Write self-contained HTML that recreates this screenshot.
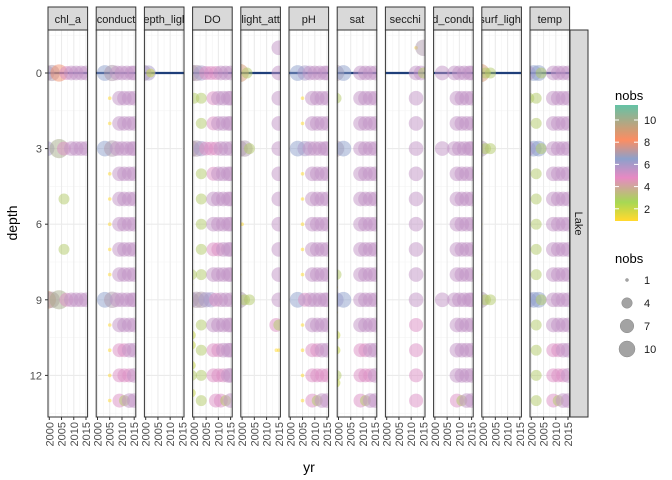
<!DOCTYPE html>
<html><head><meta charset="utf-8">
<style>
html,body{margin:0;padding:0;background:#fff;}
svg{display:block;font-family:"Liberation Sans",Arial,sans-serif;}
</style></head>
<body>
<svg id="chart" width="672" height="480" viewBox="0 0 672 480"></svg>
<script>
// ---- data ----
const variables = ["chl_a","conduct","depth_light","DO","light_att","pH","sat","secchi","std_conduct","surf_light","temp"];
const xTicks = [2000, 2005, 2010, 2015];
const yTicks = [0, 3, 6, 9, 12];
const colorTicks = [2, 4, 6, 8, 10];
const sizeLegend = [1, 4, 7, 10];
// rows: "depth:yr/nobs,yr/nobs;..."
const chlA = "0:1999/6,2001/7,2004/8,2007/5,2009/5.5,2011/5.5,2013/5.5,2015/5.5;3:1999/6,2004/10,2006/5,2009/5.5,2011/5.5,2013/5.5,2015/5.5;5:2006/3;7:2006/3;9:1999/9,2001/7,2004/10,2007/5,2009/5.5,2011/5.5,2013/5.5,2015/5.5";
const conduct = "0:2003/6.5,2006/7,2008/5.5,2010/5.5,2012/5.5,2014/5.5,2015/5.5;1:2005/1,2009/5.5,2011/5.5,2013/5.5,2015/5.5;2:2005/1,2009/5.5,2011/5.5,2013/5.5,2015/5.5;3:2003/6.5,2006/7,2008/5.5,2010/5.5,2012/5.5,2014/5.5,2015/5.5;4:2005/1,2009/5.5,2011/5.5,2013/5.5,2015/5.5;5:2005/1,2009/5.5,2011/5.5,2013/5.5,2015/5.5;6:2005/1,2009/5.5,2011/5.5,2013/5.5,2015/5.5;7:2005/1,2009/5.5,2011/5.5,2013/5.5,2015/5.5;8:2005/1,2009/5.5,2011/5.5,2013/5.5,2015/5.5;9:2003/6.5,2006/7,2008/5.5,2010/5.5,2012/5.5,2014/5.5,2015/5.5;10:2005/1,2009/5.5,2011/5.5,2013/5.5,2015/5.5;11:2005/1,2009/5,2011/5,2013/5.5,2015/5.5;12:2005/1,2009/5,2011/5,2013/5,2015/5.5;13:2005/1,2009/5,2011/3,2013/5.5,2015/5.5";
const depthLight = "0:1999/7,2001/6,2002/2";
const DO = "0:1999/7,2001/7,2003/6,2005/5,2007/5,2009/5,2011/5.5,2013/5.5,2015/5.5;1:2000/3,2003/3,2008/5,2010/5.5,2012/5.5,2014/5.5,2015/5.5;2:2003/3,2008/5,2010/5.5,2012/5.5,2014/5.5,2015/5.5;3:1999/7,2001/7,2003/6,2005/5,2007/5,2009/5,2011/5.5,2013/5.5,2015/5.5;4:2003/3,2008/5,2010/5.5,2012/5.5,2014/5.5,2015/5.5;5:2003/3,2008/5.5,2010/5.5,2012/5.5,2014/5.5,2015/5.5;6:2003/3,2008/5.5,2010/5.5,2012/5.5,2014/5.5,2015/5.5;7:2003/3,2008/5,2010/5,2012/5.5,2014/5.5,2015/5.5;8:1999/3,2003/3,2008/5.5,2010/5.5,2012/5.5,2014/5.5,2015/5.5;8.4:1999/1;9:1999/6,2001/7,2003/7,2005/6,2007/6,2009/5,2011/5.5,2013/5.5,2015/5.5;9.3:1999/1;9.6:1999/1;10:2003/3,2008/5.5,2010/5.5,2012/5.5,2014/5.5,2015/5.5;10.4:1999/2;10.8:1999/2;11:2003/3,2008/5,2010/5,2012/5.5,2014/5.5,2015/5.5;11.6:1999/2;11.9:1999/1;12:1999/3,2003/3,2008/5,2010/5,2012/5,2014/5.5,2015/5.5;12.7:1999/2;13:2003/3,2009/5,2011/5,2013/3,2015/5.5";
const lightAtt = "-1:2015/5.5;0:1999/9,2002/3,2015/5.5;1:1999/1,2015/5.5;2:1999/1,2015/5.5;3:1999/7,2001/7,2003/3,2015/5.5;4:1999/1,2015/5.5;5:1999/1,2015/5.5;6:1999/1,2000/1,2015/5.5;7:1999/1,2015/5.5;8:1999/1,2015/5.5;9:1999/7,2001/3,2003/3,2015/5.5;10:2014/5,2015/3;11:2014/1,2015/1";
const pH = "0:2003/6.5,2006/6,2008/5.5,2010/5.5,2012/5.5,2014/5.5,2015/5.5;1:2005/1,2009/5.5,2011/5.5,2013/5.5,2015/5.5;2:2005/1,2009/5.5,2011/5.5,2013/5.5,2015/5.5;3:2003/6.5,2006/6,2008/5.5,2010/5.5,2012/5.5,2014/5.5,2015/5.5;4:2005/1,2009/5.5,2011/5.5,2013/5.5,2015/5.5;5:2005/1,2009/5.5,2011/5.5,2013/5.5,2015/5.5;6:2005/1,2009/5.5,2011/5.5,2013/5.5,2015/5.5;7:2005/1,2009/5.5,2011/5.5,2013/5.5,2015/5.5;8:2005/1,2009/5.5,2011/5.5,2013/5.5,2015/5.5;9:2003/6.5,2006/5,2008/5.5,2010/5.5,2012/5.5,2014/5.5,2015/5.5;10:2005/1,2009/5.5,2011/5.5,2013/5.5,2015/5.5;11:2005/1,2009/5,2011/5,2013/5.5,2015/5.5;12:2005/1,2009/5,2011/5,2013/5,2015/5;13:2005/1,2009/5,2011/3,2013/5.5,2015/5.5";
const sat = "0:1999/7,2002/6.5,2009/5.5,2011/5.5,2013/5.5,2015/5.5;1:1999/3,2009/5.5,2011/5.5,2013/5.5,2015/5.5;2:2009/5.5,2011/5.5,2013/5.5,2015/5.5;3:1999/7,2002/6.5,2009/5.5,2011/5.5,2013/5.5,2015/5.5;4:2009/5.5,2011/5.5,2013/5.5,2015/5.5;5:2009/5.5,2011/5.5,2013/5.5,2015/5.5;6:2009/5.5,2011/5.5,2013/5.5,2015/5.5;7:2009/5.5,2011/5.5,2013/5.5,2015/5.5;8:1999/3,2009/5.5,2011/5.5,2013/5.5,2015/5.5;8.5:1999/1;9:1999/6,2002/6.5,2009/5.5,2011/5.5,2013/5.5,2015/5.5;9.5:1999/1;10:2009/5.5,2011/5.5,2013/5.5,2015/5.5;10.4:1999/2;11:1999/2,2009/5,2011/5,2013/5.5,2015/5.5;12:1999/3,2009/5,2011/5,2013/5,2015/5.5;12.3:1999/2;13:2009/5,2011/3,2013/5.5,2015/5.5";
const secchi = "-1:2012/1,2015/7;0:2012/5.5,2014/5.5,2015/3;1:2012/5.5;2:2012/5.5;3:2012/5.5;4:2012/5.5;5:2012/5.5;6:2012/5.5;7:2012/5.5;8:2012/5.5;9:2012/5.5;10:2012/5;11:2012/5;12:2012/5;13:2012/5";
const stdConduct = "0:2003/5.5,2008/5.5,2010/5.5,2012/5.5,2014/5.5,2015/5.5;1:2009/5.5,2011/5.5,2013/5.5,2015/5.5;2:2009/5.5,2011/5.5,2013/5.5,2015/5.5;3:2003/5.5,2008/5.5,2010/5.5,2012/5.5,2014/5.5,2015/5.5;4:2009/5.5,2011/5.5,2013/5.5,2015/5.5;5:2009/5.5,2011/5.5,2013/5.5,2015/5.5;6:2009/5.5,2011/5.5,2013/5.5,2015/5.5;7:2009/5.5,2011/5.5,2013/5.5,2015/5.5;8:2009/5.5,2011/5.5,2013/5.5,2015/5.5;9:2003/5.5,2008/5.5,2010/5.5,2012/5.5,2014/5.5,2015/5.5;10:2009/5.5,2011/5.5,2013/5.5,2015/5.5;11:2009/5.5,2011/5.5,2013/5.5,2015/5.5;12:2009/5.5,2011/5.5,2013/5.5,2015/5.5;13:2009/5,2011/3,2013/5.5,2015/5.5";
const surfLight = "0:1999/9,2001/3,2003/3;1:1999/1;2:1999/1;3:1999/7,2001/3,2003/3;4:1999/1;5:1999/1;6:1999/1;7:1999/1;8:1999/1;9:1999/7,2001/3,2003/3";
const temp = "0:1999/5,2001/6.5,2003/6.5,2004/3,2009/5.5,2011/5.5,2013/5.5,2015/5.5;1:1999/3,2002/3,2009/5.5,2011/5.5,2013/5.5,2015/5.5;2:2002/3,2009/5.5,2011/5.5,2013/5.5,2015/5.5;3:1999/5,2001/6.5,2003/6.5,2004/3,2009/5.5,2011/5.5,2013/5.5,2015/5.5;4:2002/3,2009/5.5,2011/5.5,2013/5.5,2015/5.5;5:2002/3,2009/5.5,2011/5.5,2013/5.5,2015/5.5;6:2002/3,2009/5.5,2011/5.5,2013/5.5,2015/5.5;7:2002/3,2009/5.5,2011/5.5,2013/5.5,2015/5.5;8:2002/3,2009/5.5,2011/5.5,2013/5.5,2015/5.5;9:1999/6,2001/6.5,2003/6.5,2004/3,2009/5.5,2011/5.5,2013/5.5,2015/5.5;10:2002/3,2009/5.5,2011/5.5,2013/5.5,2015/5.5;11:2002/3,2009/5,2011/5,2013/5.5,2015/5.5;12:2002/3,2009/5,2011/5,2013/5,2015/5.5;13:2002/3,2009/5,2011/3,2013/5.5,2015/5.5";
const panelData = [chlA, conduct, depthLight, DO, lightAtt, pH, sat, secchi, stdConduct, surfLight, temp];

// ---- scales ----
const NS="http://www.w3.org/2000/svg";
const svg=document.getElementById('chart');
function mk(tag,attrs,parent){const e=document.createElementNS(NS,tag);for(const k in attrs)e.setAttribute(k,attrs[k]);(parent||svg).appendChild(e);return e;}
const PT=30, PB=417, PW=39.6;
function panelLeft(i){return 48+i*48.2;}
function xs(i,yr){return panelLeft(i)+1.3+(yr-2000)*2.447;}
function ys(d){return 73+25.2*d;}
function rs(n){return 1.5+6.5*Math.sqrt(Math.max(0,n-1)/9);}
function rp(n){return 1.8+7.8*Math.sqrt(Math.max(0,n-1)/9);}
const stops=[[1,[255,217,47]],[2.6,[166,216,84]],[4.8,[231,138,195]],[6.5,[141,160,203]],[8.2,[252,141,98]],[11.3,[102,194,165]]];
function col(n){if(n<=stops[0][0])return 'rgb('+stops[0][1]+')';for(let k=1;k<stops.length;k++){if(n<=stops[k][0]){const a=stops[k-1],b=stops[k];const t=(n-a[0])/(b[0]-a[0]);return 'rgb('+a[1].map((v,j)=>Math.round(v+(b[1][j]-v)*t)).join(',')+')';}}return 'rgb('+stops[stops.length-1][1]+')';}
function parseRows(s){const out=[];s.split(';').forEach(r=>{const [d,list]=r.split(':');list.split(',').forEach(p=>{const [y,n]=p.split('/');out.push({d:+d,yr:+y,n:+n});});});return out;}

const defs=mk('defs',{});
variables.forEach((v,i)=>{
  const L=panelLeft(i);
  const cp=mk('clipPath',{id:'cp'+i},defs);
  mk('rect',{x:L,y:PT,width:PW,height:PB-PT},cp);
  const g=mk('g',{});
  
  
  mk('rect',{x:L,y:PT,width:PW,height:PB-PT,fill:'#fff'},g);
  [2002.5,2007.5,2012.5,1997.5,2017.5].forEach(t=>{const x=xs(i,t);if(x>L&&x<L+PW)mk('line',{x1:x,x2:x,y1:PT,y2:PB,stroke:'#f3f3f3','stroke-width':0.6},g);});
  [-1.5,1.5,4.5,7.5,10.5,13.5].forEach(t=>{const y=ys(t);if(y>PT&&y<PB)mk('line',{x1:L,x2:L+PW,y1:y,y2:y,stroke:'#f3f3f3','stroke-width':0.6},g);});
  xTicks.forEach(t=>mk('line',{x1:xs(i,t),x2:xs(i,t),y1:PT,y2:PB,stroke:'#ebebeb','stroke-width':1.1},g));
  yTicks.forEach(t=>mk('line',{x1:L,x2:L+PW,y1:ys(t),y2:ys(t),stroke:'#ebebeb','stroke-width':1.1},g));
  const zl=mk('line',{x1:L,x2:L+PW,y1:ys(0),y2:ys(0),stroke:'#1f3f7a','stroke-width':2.2},g);
  
  
  const pg=mk('g',{'clip-path':'url(#cp'+i+')'},g);
  parseRows(panelData[i]).forEach(p=>{
    const c=mk('circle',{cx:xs(i,p.yr),cy:ys(p.d),r:rp(p.n),fill:col(p.n),'fill-opacity':0.5},pg);
    
    
  });
  mk('rect',{x:L,y:PT,width:PW,height:PB-PT,fill:'none',stroke:'#333','stroke-width':1},g);
  const scp=mk('clipPath',{id:'scp'+i},defs);
  mk('rect',{x:L,y:7,width:PW,height:23},scp);
  const s=mk('rect',{x:L,y:7,width:PW,height:23,fill:'#d9d9d9',stroke:'#333','stroke-width':1},g);
  
  
  const st=mk('text',{x:L+PW/2,y:23,'text-anchor':'middle','font-size':11,fill:'#1a1a1a','clip-path':'url(#scp'+i+')'},g);
  st.textContent=v;
  
  
  xTicks.forEach(t=>{
    const x=xs(i,t);
    mk('line',{x1:x,x2:x,y1:PB,y2:PB+3,stroke:'#333'},g);
    const tx=mk('text',{x:0,y:0,transform:'translate('+(x+4)+','+(PB+5)+') rotate(-90)','text-anchor':'end','font-size':11,fill:'#4d4d4d'},g);
    tx.textContent=t;
    
    
  });
});
yTicks.forEach(t=>{
  mk('line',{x1:45,x2:48,y1:ys(t),y2:ys(t),stroke:'#333'});
  const tx=mk('text',{x:42,y:ys(t)+4,'text-anchor':'end','font-size':11,fill:'#4d4d4d'});
  tx.textContent=t;
  
  
});
const rs_=mk('rect',{x:570,y:PT,width:18,height:PB-PT,fill:'#d9d9d9',stroke:'#333','stroke-width':1});


const rt=mk('text',{x:0,y:0,transform:'translate(575,'+((PT+PB)/2)+') rotate(90)','text-anchor':'middle','font-size':11,fill:'#1a1a1a'});
rt.textContent='Lake';


const xt=mk('text',{x:309,y:472,'text-anchor':'middle','font-size':14,fill:'#000'});
xt.textContent='yr';


const yt=mk('text',{x:0,y:0,transform:'translate(17,223) rotate(-90)','text-anchor':'middle','font-size':14,fill:'#000'});
yt.textContent='depth';


const lg=mk('g',{});


const ct=mk('text',{x:615,y:100,'font-size':13,fill:'#000'},lg);ct.textContent='nobs';
const grad=mk('linearGradient',{id:'cg',x1:0,y1:1,x2:0,y2:0},defs);
const cMin=0.9,cMax=11.35;
stops.forEach(s=>mk('stop',{offset:((s[0]-cMin)/(cMax-cMin)),'stop-color':'rgb('+s[1]+')'},grad));
mk('rect',{x:615,y:105,width:23,height:116,fill:'url(#cg)'},lg);
function cy(n){return 221-(n-cMin)/(cMax-cMin)*116;}
colorTicks.forEach(t=>{
  mk('line',{x1:615,x2:619,y1:cy(t),y2:cy(t),stroke:'#fff'},lg);
  mk('line',{x1:634,x2:638,y1:cy(t),y2:cy(t),stroke:'#fff'},lg);
  const tx=mk('text',{x:644,y:cy(t)+4,'font-size':11,fill:'#1a1a1a'},lg);tx.textContent=t;
});
const sg=mk('g',{});


const sgt=mk('text',{x:615,y:263,'font-size':13,fill:'#000'},sg);sgt.textContent='nobs';
sizeLegend.forEach((n,k)=>{
  const y=280+k*23;
  mk('circle',{cx:627,cy:y,r:rs(n),fill:'#999','fill-opacity':0.9,stroke:'#888','stroke-width':0.5},sg);
  const tx=mk('text',{x:644,y:y+4,'font-size':11,fill:'#1a1a1a'},sg);tx.textContent=n;
});
</script>
</body></html>
